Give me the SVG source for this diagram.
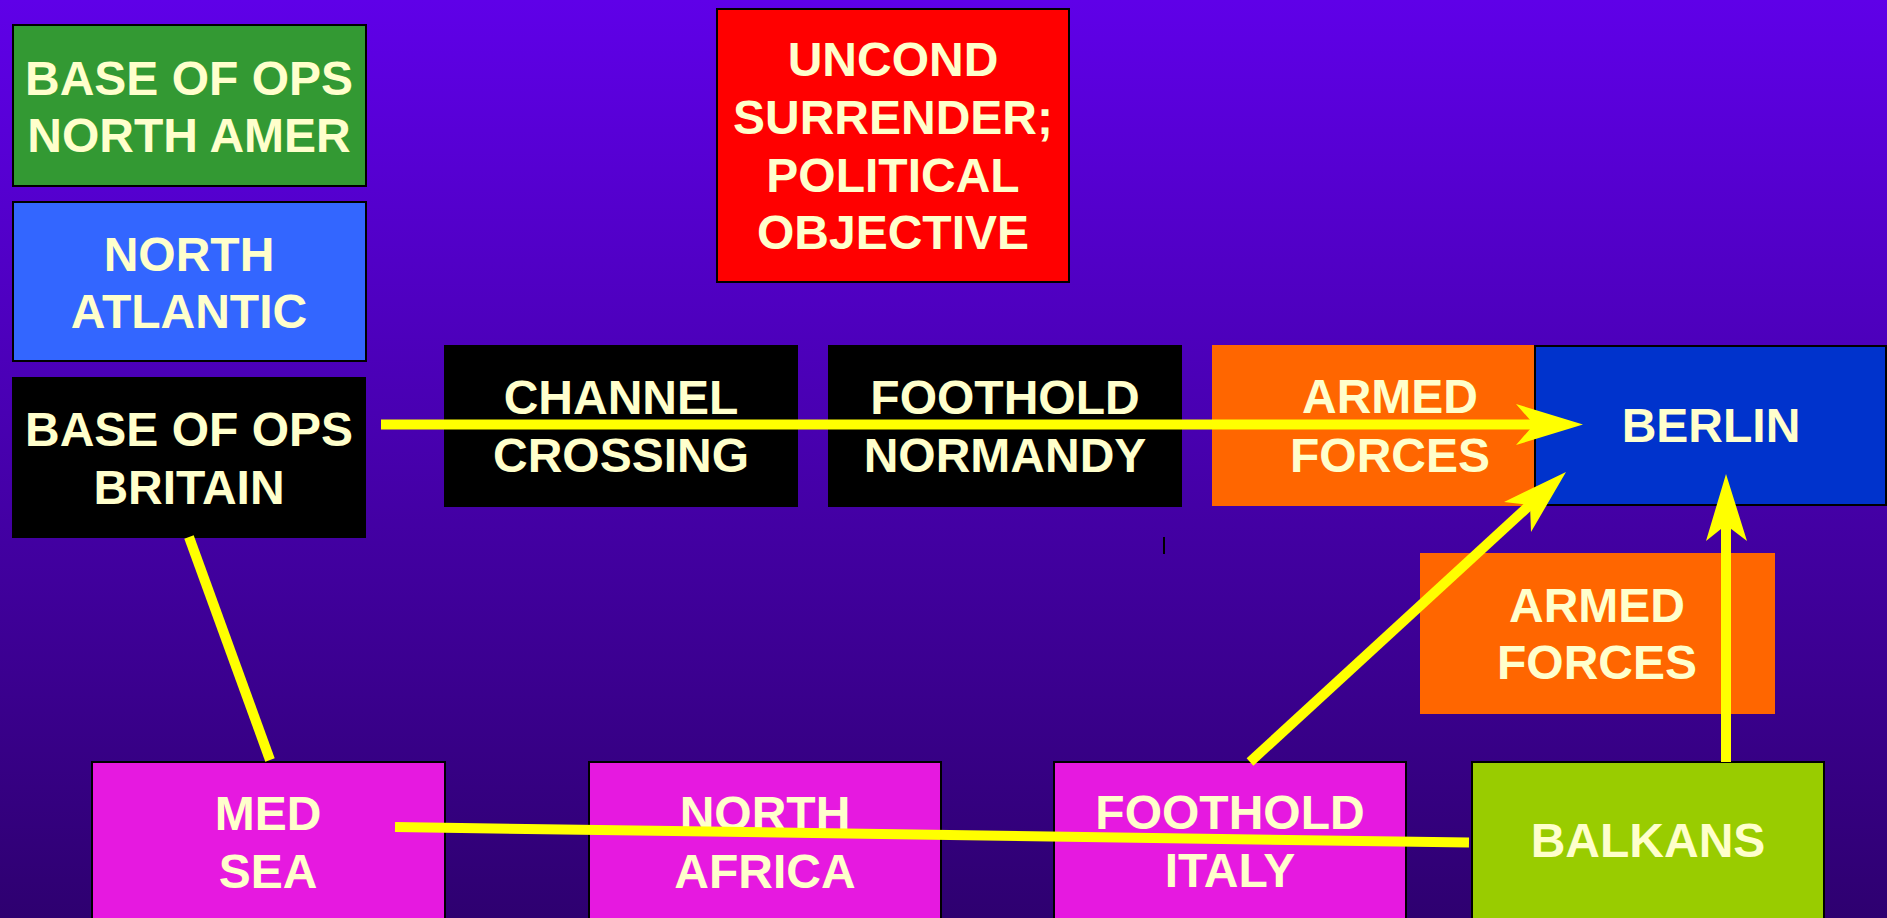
<svg xmlns="http://www.w3.org/2000/svg" width="1887" height="918" viewBox="0 0 1887 918">
<defs>
<linearGradient id="bg" x1="0" y1="0" x2="0" y2="1">
<stop offset="0" stop-color="#5F00E8"/>
<stop offset="1" stop-color="#2E0070"/>
</linearGradient>
<style>
text{font-family:"Liberation Sans",Arial,sans-serif;font-weight:bold;font-size:48px;fill:#FFFFCC;text-anchor:middle}
.b{stroke:#000;stroke-width:2}
.c{stroke:#FFFF00;stroke-width:10;fill:none}
.h{fill:#FFFF00}
</style>
</defs>
<rect width="1887" height="918" fill="url(#bg)"/>
<g id="base-north-amer"><rect class="b" x="13" y="25" width="353" height="161" fill="#339933"/><text x="189" y="95">BASE OF OPS</text><text x="189" y="152">NORTH AMER</text></g>
<g id="north-atlantic"><rect class="b" x="13" y="202" width="353" height="159" fill="#3366FF"/><text x="189" y="271">NORTH</text><text x="189" y="328">ATLANTIC</text></g>
<g id="base-britain"><rect x="12" y="377" width="354" height="161" fill="#000"/><text x="189" y="446">BASE OF OPS</text><text x="189" y="504">BRITAIN</text></g>
<g id="uncond"><rect class="b" x="717" y="9" width="352" height="273" fill="#FF0000"/><text x="893" y="76">UNCOND</text><text x="893" y="134">SURRENDER;</text><text x="893" y="192">POLITICAL</text><text x="893" y="249">OBJECTIVE</text></g>
<g id="channel"><rect x="444" y="345" width="354" height="162" fill="#000"/><text x="621" y="414">CHANNEL</text><text x="621" y="472">CROSSING</text></g>
<g id="normandy"><rect x="828" y="345" width="354" height="162" fill="#000"/><text x="1005" y="414">FOOTHOLD</text><text x="1005" y="472">NORMANDY</text></g>
<g id="armed1"><rect x="1212" y="345" width="323" height="161" fill="#FF6600"/><text x="1390" y="413">ARMED</text><text x="1390" y="472">FORCES</text></g>
<g id="berlin"><rect class="b" x="1535" y="346" width="351" height="159" fill="#0033CC"/><text x="1711" y="442">BERLIN</text></g>
<g id="armed2"><rect x="1420" y="553" width="355" height="161" fill="#FF6600"/><text x="1597" y="622">ARMED</text><text x="1597" y="679">FORCES</text></g>
<g id="med"><rect class="b" x="92" y="762" width="353" height="170" fill="#E619E0"/><text x="268" y="830">MED</text><text x="268" y="888">SEA</text></g>
<g id="africa"><rect class="b" x="589" y="762" width="352" height="170" fill="#E619E0"/><text x="765" y="830">NORTH</text><text x="765" y="888">AFRICA</text></g>
<g id="italy"><rect class="b" x="1054" y="762" width="352" height="170" fill="#E619E0"/><text x="1230" y="829">FOOTHOLD</text><text x="1230" y="887">ITALY</text></g>
<g id="balkans"><rect class="b" x="1472" y="762" width="352" height="170" fill="#99CC00"/><text x="1648" y="857">BALKANS</text></g>
<rect x="1163" y="537" width="2" height="17" fill="#000"/>
<g id="connectors">
<line class="c" x1="381" y1="424.5" x2="1536" y2="424.5" stroke-width="11"/>
<polygon class="h" points="1583,424.5 1516,404 1534,424.5 1516,445"/>
<line class="c" x1="1250" y1="762" x2="1532" y2="503"/>
<polygon class="h" points="1566,472 1504,502 1530,505 1531,532"/>
<line class="c" x1="1726" y1="762" x2="1726" y2="522"/>
<polygon class="h" points="1726,474 1747,541 1726,525 1706,541"/>
<line class="c" x1="189" y1="537" x2="270" y2="760"/>
<line class="c" x1="395" y1="827" x2="1469" y2="842.5"/>
</g>
</svg>
